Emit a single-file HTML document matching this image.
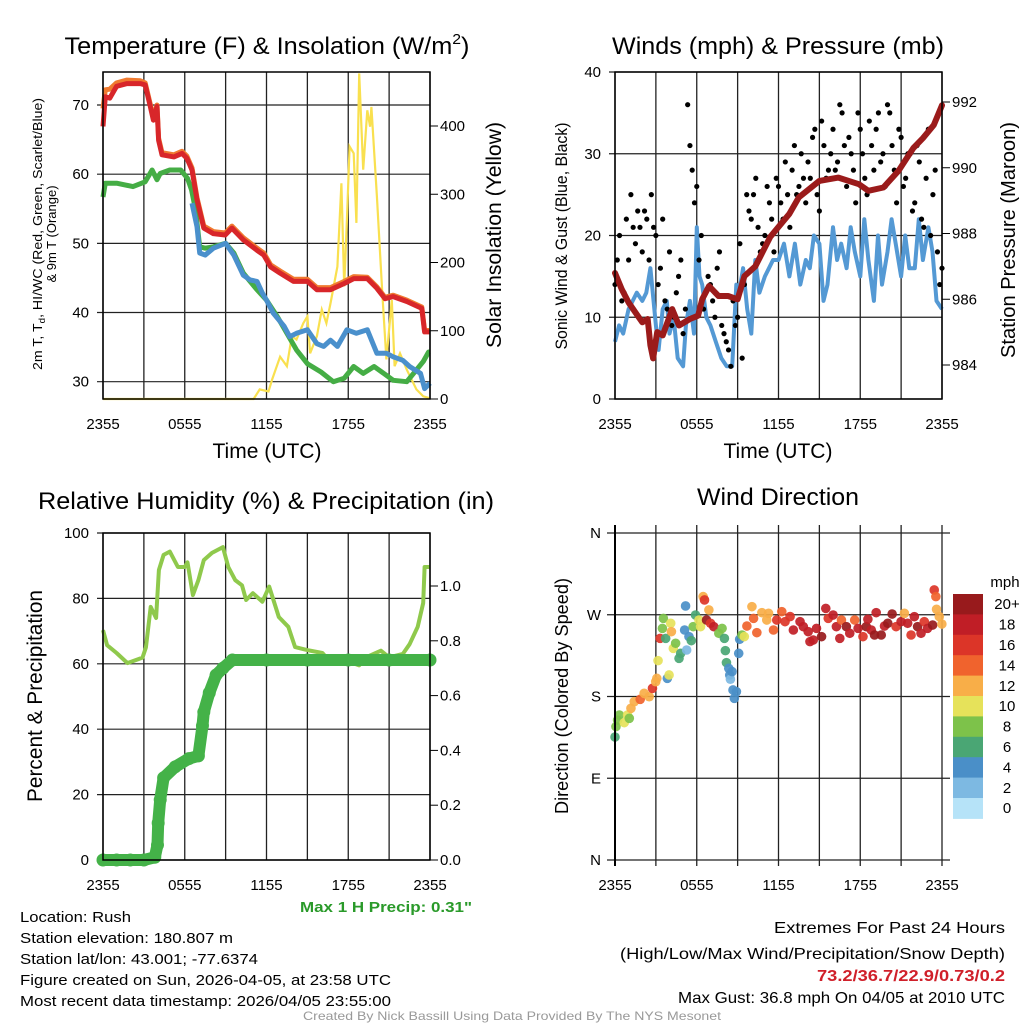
<!DOCTYPE html>
<html><head><meta charset="utf-8"><style>
body{margin:0;background:#fff}
svg{display:block;font-family:"Liberation Sans",sans-serif}
</style></head><body>
<svg id="chart" width="1024" height="1024" viewBox="0 0 1024 1024" xmlns="http://www.w3.org/2000/svg">
<rect width="1024" height="1024" fill="#fff"/>
<g id="grids"></g>
<g id="marks"></g>
<g id="frames"></g>
<g id="labels">
<text x="267" y="54" font-size="24" text-anchor="middle" textLength="405" lengthAdjust="spacingAndGlyphs">Temperature (F) &amp; Insolation (W/m<tspan font-size="15" dy="-10">2</tspan><tspan dy="10">)</tspan></text>
<text x="778" y="54" font-size="24" text-anchor="middle" textLength="332" lengthAdjust="spacingAndGlyphs">Winds (mph) &amp; Pressure (mb)</text>
<text x="266" y="509" font-size="24" text-anchor="middle" textLength="456" lengthAdjust="spacingAndGlyphs">Relative Humidity (%) &amp; Precipitation (in)</text>
<text x="778" y="505" font-size="24" text-anchor="middle" textLength="162" lengthAdjust="spacingAndGlyphs">Wind Direction</text>
<text x="267" y="458" font-size="21" text-anchor="middle" textLength="109" lengthAdjust="spacingAndGlyphs">Time (UTC)</text>
<text x="778" y="458" font-size="21" text-anchor="middle" textLength="109" lengthAdjust="spacingAndGlyphs">Time (UTC)</text>
<text transform="translate(42,234) rotate(-90)" font-size="13" text-anchor="middle" textLength="272" lengthAdjust="spacingAndGlyphs">2m T, T<tspan font-size="9" dy="3">d</tspan><tspan dy="-3">, HI/WC (Red, Green, Scarlet/Blue)</tspan></text>
<text transform="translate(56,234) rotate(-90)" font-size="13" text-anchor="middle">&amp; 9m T (Orange)</text>
<text transform="translate(501,235) rotate(-90)" font-size="21" text-anchor="middle" textLength="226" lengthAdjust="spacingAndGlyphs">Solar Insolation (Yellow)</text>
<text transform="translate(567,236) rotate(-90)" font-size="17" text-anchor="middle" textLength="227" lengthAdjust="spacingAndGlyphs">Sonic Wind &amp; Gust (Blue, Black)</text>
<text transform="translate(1015,240) rotate(-90)" font-size="20" text-anchor="middle" textLength="236" lengthAdjust="spacingAndGlyphs">Station Pressure (Maroon)</text>
<text transform="translate(42,696) rotate(-90)" font-size="21" text-anchor="middle" textLength="212" lengthAdjust="spacingAndGlyphs">Percent &amp; Precipitation</text>
<text transform="translate(568,696) rotate(-90)" font-size="18" text-anchor="middle" textLength="236" lengthAdjust="spacingAndGlyphs">Direction (Colored By Speed)</text>
<text x="472" y="912" font-size="15" font-weight="bold" fill="#2a9a2a" text-anchor="end" textLength="172" lengthAdjust="spacingAndGlyphs">Max 1 H Precip: 0.31"</text>
<text x="20" y="922" font-size="15" textLength="111" lengthAdjust="spacingAndGlyphs">Location: Rush</text>
<text x="20" y="943" font-size="15" textLength="213" lengthAdjust="spacingAndGlyphs">Station elevation: 180.807 m</text>
<text x="20" y="964" font-size="15" textLength="238" lengthAdjust="spacingAndGlyphs">Station lat/lon: 43.001; -77.6374</text>
<text x="20" y="985" font-size="15" textLength="371" lengthAdjust="spacingAndGlyphs">Figure created on Sun, 2026-04-05, at 23:58 UTC</text>
<text x="20" y="1006" font-size="15" textLength="371" lengthAdjust="spacingAndGlyphs">Most recent data timestamp: 2026/04/05 23:55:00</text>
<text x="1005" y="933" font-size="16" text-anchor="end" textLength="231" lengthAdjust="spacingAndGlyphs">Extremes For Past 24 Hours</text>
<text x="1005" y="959" font-size="16" text-anchor="end" textLength="385" lengthAdjust="spacingAndGlyphs">(High/Low/Max Wind/Precipitation/Snow Depth)</text>
<text x="1005" y="981" font-size="16" font-weight="bold" fill="#d0202a" text-anchor="end" textLength="188" lengthAdjust="spacingAndGlyphs">73.2/36.7/22.9/0.73/0.2</text>
<text x="1005" y="1003" font-size="16" text-anchor="end" textLength="327" lengthAdjust="spacingAndGlyphs">Max Gust: 36.8 mph On 04/05 at 2010 UTC</text>
<text x="512" y="1020" font-size="12" fill="#999" text-anchor="middle" textLength="418" lengthAdjust="spacingAndGlyphs">Created By Nick Bassill Using Data Provided By The NYS Mesonet</text>
</g>
</svg>
<script>
// ---- Temperature panel data ----
const tempHours=[0,0.17,0.5,1,1.76,2.74,3.1,3.47,3.7,3.96,4.08,4.33,5.2,5.8,6.16,6.53,6.9,7.4,8.1,8.97,9.46,10.3,11.3,11.8,12.3,13,13.98,15,15.7,16.7,17.7,18.4,19.4,20.1,20.7,21.3,22.3,23.4,23.6,24];
const tempValues=[66.9,71.2,71,72.7,73.1,73.1,72.9,69.8,67.8,69.8,64.9,62.8,62.5,63,62.3,60.6,56.3,52.2,51.4,51.2,52.2,50.5,49,48.3,46.6,45.7,44.5,44.5,43.3,43.3,44.2,44.9,44.9,43.5,42,42.3,41.6,40.6,37.2,37.2];
const temp9mValues=[69.5,72.2,72.3,73.2,73.6,73.5,73.2,70.1,68.1,70,65.2,63.1,62.8,63.3,62.6,60.9,56.6,52.5,51.7,51.5,52.5,50.8,49.3,48.6,46.9,46,44.8,44.8,43.6,43.6,44.5,45.2,45.1,43.7,42.2,42.5,41.8,40.8,37.4,37.4];
const dewHours=[0,0.17,1,2.2,3.1,3.6,3.96,4.2,4.9,5.7,6.2,6.5,6.8,7.1,7.5,8.1,9,9.6,10.3,11.3,12,12.8,13.5,14.2,15,16,16.9,17.7,18.4,19.1,19.9,20.6,21.3,22.3,23,23.5,23.9,24];
const dewValues=[56.7,58.7,58.7,58.2,58.9,60.6,59.2,60.1,60.6,60.6,59.4,57.7,54.8,49.5,49.3,49.5,50,48.6,45.7,43.3,41.8,39.4,37,34.6,32.6,31.4,30,30.5,32.2,31.2,32.2,31.2,30.2,30,31.7,32.9,34.3,34.3];
const hiHours=[6.53,6.9,7.1,7.5,8.1,9,9.6,10.3,10.8,11.3,11.7,12,12.5,13.3,13.7,14.2,15,15.7,16.2,16.7,17.2,17.9,18.6,19.4,20.1,20.8,21.3,22,22.5,23.3,23.6,24];
const hiValues=[55.8,52.4,48.6,48.3,49.3,50,48.3,45.4,44.7,44.5,42.8,41.8,39.9,38,36.5,37,37.5,35.5,35.1,36,35.1,37.5,37,37.5,34.1,34.1,33.6,33.1,32.2,31.2,29,29.8];
const solarHours=[0,11.05,11.5,12.15,12.4,13,13.5,13.86,14.2,14.7,15,15.2,15.7,16.06,16.4,16.7,17.2,17.5,17.7,17.9,18.1,18.4,18.6,18.8,19.1,19.4,19.6,19.7,20.1,20.5,20.8,21.2,21.4,21.8,22.3,23,23.5,24];
const solarValues=[0,0,14,11,28,62,48,92,87,111,121,67,92,131,111,140,194,316,165,262,370,360,258,477,336,423,399,428,297,155,58,145,48,67,43,14,4,1];
const tempTicks=[30,40,50,60,70];
const solarTicks=[0,100,200,300,400];
const timeTickHours=[0,6,12,18,24];
const timeTickLabels=["2355","0555","1155","1755","2355"];
// ---- Wind panel data ----
const windHours=[0,0.3,0.6,1,1.3,1.6,2,2.3,2.6,3,3.2,3.5,3.8,4,4.3,4.6,5,5.2,5.5,5.8,6,6.2,6.4,6.7,7,7.4,7.8,8.2,8.6,8.9,9.1,9.4,9.7,10,10.3,10.6,11,11.3,11.6,12,12.4,12.8,13.2,13.6,14,14.3,14.6,15,15.3,15.6,16,16.3,16.6,17,17.3,17.6,18,18.3,18.6,19,19.3,19.6,20,20.3,20.6,21,21.3,21.6,22,22.3,22.6,23,23.3,23.6,24];
const windValues=[7,9,8,11,12,13,12,13,16,9,6,11,12,8,10,5,4,9,12,8,21,15,14,10,9,7,5,4,4,14,13,16,11,8,17,13,15,16,17,17,19,15,19,14,17,16,20,19,12,14,21,17,19,16,21,18,15,22,17,12,20,14,18,22,19,15,20,16,16,22,17,21,18,12,11];
const gustValues=[14,20,13,17,21,23,18,22,25,20,16,12,18,10,15,8,36,28,26,20,13,14,10,18,8,6,12,10,5,25,22,27,18,20,24,18,26,22,25,28,25,30,24,27,33,23,31,28,33,29,35,26,30,24,33,27,34,28,35,30,36,31,24,32,27,30,24,29,21,33,25,18,16];
const gustValues2=[17,12,22,25,19,21,23,17,21,14,22,11,9,13,17,11,31,24,17,11,15,12,16,9,7,4,9,19,14,23,25,21,19,26,22,27,24,29,21,31,26,27,29,32,25,34,27,30,28,36,31,32,28,35,30,25,31,33,29,26,35,28,33,26,30,23,31,22,27,20,28,14];
const presHours=[0,0.5,1,1.5,2,2.4,2.6,2.8,3.1,3.5,4.2,4.7,5.5,6.1,6.4,6.9,7.6,8.3,9,9.5,10.3,11.4,12.8,13.5,15,16.4,17.9,18.6,19.7,20.8,21.9,22.6,23.4,24];
const presValues=[986.8,986.3,985.9,985.6,985.3,985.4,984.6,984.2,985,984.9,985.7,985.2,985.4,985.5,986,986.4,986.1,986.1,986,986.7,987,987.9,988.6,989.1,989.6,989.7,989.5,989.3,989.4,989.9,990.6,990.9,991.3,991.9];
const windTicks=[0,10,20,30,40];
const presTicks=[984,986,988,990,992];
// ---- Humidity panel data ----
const rhHours=[0,0.3,1,1.8,2.9,3.15,3.5,3.9,4.1,4.45,4.9,5.5,6,6.2,6.6,7,7.4,8,8.8,9.2,9.7,10.2,10.5,11,11.7,12.2,12.9,13.6,14.1,15.1,16.1,16.8,17.8,18.8,19.3,20.4,21,22,22.5,23.1,23.5,23.6,24];
const rhValues=[70.3,65.7,63.3,60.2,61.9,65,77.4,74,88.7,93.3,94.3,89.6,89.6,91,81,85.6,91.7,93.9,95.7,89.6,85.6,84,79.5,81.6,79,83.6,74.3,71.3,65.1,64.1,63.3,60,61,59.5,62,64,62,63,66,71.3,78.6,89.6,89.6];
const precipHours=[0,1,2,3,3.8,4.0,4.05,4.2,4.45,5.3,6.3,7,7.3,7.4,7.8,8.3,8.8,9.5,12,15,18,21,24];
const precipValues=[0,0,0,0,0.01,0.055,0.135,0.22,0.30,0.34,0.37,0.38,0.49,0.54,0.61,0.675,0.70,0.73,0.73,0.73,0.73,0.73,0.73];
const rhTicks=[0,20,40,60,80,100];
const precipTicks=[0,0.2,0.4,0.6,0.8,1.0];
// ---- Wind direction data ----
const dirHours=[0,0.07,0.19,0.32,0.68,0.92,1.05,1.17,1.41,1.85,2.14,2.51,2.75,2.99,3.07,3.16,3.31,3.48,3.55,3.72,3.84,3.97,4.09,4.14,4.28,4.45,4.7,4.82,5.18,5.26,5.11,5.43,5.6,5.74,5.91,6.16,6.28,6.47,6.57,6.72,6.89,7.01,7.25,7.62,7.86,8.03,8.1,8.18,8.35,8.42,8.47,8.59,8.66,8.76,8.91,9.08,9.15,9.32,9.49,9.68,10.05,10.17,10.41,10.78,11.14,11.27,11.63,11.87,12.24,12.48,12.85,13.09,13.58,13.82,14.18,14.31,14.55,14.79,15.16,15.47,15.65,16.01,16.25,16.5,16.62,16.98,17.23,17.59,17.84,18.2,18.44,18.56,18.81,19.05,19.17,19.54,19.78,20.02,20.34,20.63,21,21.24,21.48,21.73,21.97,22.21,22.46,22.7,22.94,23.31,23.43,23.55,23.6,23.8,23.99];
const dirValues=[135.4,146.8,154,159.6,151.2,159.6,156,167,174.3,176.9,183.5,179.8,189,196.3,200,219.5,244,255,266,244,200,203.7,260.6,251.4,233,238.6,222,227.5,279.7,231.2,253.2,245.9,241.5,256.9,269.7,264.2,256.9,290,286.3,264.2,275.3,260.6,256.9,249.6,255,244,230.5,217.3,211,203.7,199,207.4,187.2,178,185.3,227.5,243,247.7,245.9,257.6,278.9,266,250.3,272.3,264.2,271.6,253.2,264.2,273.4,262.4,268,253.2,262.4,256.9,251.4,240.4,242.2,255,245.9,277,266,269.7,256.9,244,264.2,256.9,249.6,264.2,255,245.9,256.9,265,253.2,247.7,272.3,247.7,257.6,260.6,270.8,256.9,262.4,271.6,260.6,247.7,267.9,256.9,249.6,262.4,255,258.7,297.3,290,276,268,259.8];
const dirSpeeds=[6,8,8,8,10,10,8,12,12,14,12,12,16,12,12,10,16,8,8,6,4,10,10,12,10,8,6,6,4,2,4,4,6,8,6,10,10,12,16,20,12,16,18,8,8,6,6,6,4,4,2,4,4,4,4,4,4,8,10,14,12,14,14,12,12,12,14,16,14,16,16,18,18,18,18,18,18,18,20,18,16,18,18,18,14,20,18,14,18,16,20,18,18,20,18,20,18,20,20,16,18,12,18,16,18,20,18,16,18,20,16,14,12,12,12];
const speedLevels=[0,2,4,6,8,10,12,14,16,18,20];
const speedLabels=["0","2","4","6","8","10","12","14","16","18","20+"];
const speedColors=["#b6e3f8","#7db9e2","#4a8fc8","#4aa674","#7dc24a","#e6e25a","#f8ae48","#f0632d","#dc3528","#c01e26","#981a1c"];
const dirTicks=[0,90,180,270,360];
const dirTickLabels=["N","E","S","W","N"];

const NS="http://www.w3.org/2000/svg";
const grids=document.getElementById('grids'),marks=document.getElementById('marks'),frames=document.getElementById('frames'),labels=document.getElementById('labels');
function lin(d0,d1,r0,r1){return v=>r0+(v-d0)*(r1-r0)/(d1-d0);}
function mk(tag,attrs,parent){const e=document.createElementNS(NS,tag);for(const k in attrs)e.setAttribute(k,attrs[k]);parent.appendChild(e);return e;}
function pts(hs,vs,xs,ys){return hs.map((h,i)=>xs(h).toFixed(1)+','+ys(vs[i]).toFixed(1)).join(' ');}

const panels={
 temp:{x0:103,x1:430,y0:72,y1:399},
 wind:{x0:615,x1:942,y0:72,y1:399},
 rh:{x0:103,x1:430,y0:533,y1:860},
 dir:{x0:615,x1:942,y0:533,y1:860}
};
function drawFrame(p,name,vGridStep,hVals,ys,leftTicks,leftLabels,rightTicks,rightLabels,ysR,frameRect){
 const xs=lin(0,24,p.x0,p.x1);
 for(let h=0;h<=24;h+=3){
  const l=mk('line',{x1:xs(h),x2:xs(h),y1:p.y0-(frameRect?0:8),y2:p.y1+(frameRect?0:6),stroke:'#222','stroke-width':1.3},grids);
  
  
 }
 hVals.forEach(v=>{
  const l=mk('line',{x1:p.x0-(frameRect?6:8),x2:p.x1+(frameRect?0:8),y1:ys(v),y2:ys(v),stroke:'#222','stroke-width':1.2},grids);
  
  
 });
 if(frameRect){
  const r=mk('rect',{x:p.x0,y:p.y0,width:p.x1-p.x0,height:p.y1-p.y0,fill:'none',stroke:'#000','stroke-width':1.5},frames);
  
  
 } else {
  mk('line',{x1:p.x0,x2:p.x0,y1:p.y0-8,y2:p.y1+6,stroke:'#000','stroke-width':2},frames);
 }
 leftTicks.forEach((v,i)=>{
  const t=mk('text',{x:p.x0-14,y:ys(v)+5,'font-size':15,'text-anchor':'end'},labels);
  t.textContent=leftLabels[i];
  
  
 });
 if(rightTicks){rightTicks.forEach((v,i)=>{
  mk('line',{x1:p.x1,x2:p.x1+8,y1:ysR(v),y2:ysR(v),stroke:'#000','stroke-width':1},frames);
  const t=mk('text',{x:p.x1+10,y:ysR(v)+5,'font-size':15},labels);
  t.textContent=rightLabels[i];
  
  
 });}
 timeTickHours.forEach((h,i)=>{
  const t=mk('text',{x:xs(h),y:p.y1+30,'font-size':15,'text-anchor':'middle'},labels);
  t.textContent=timeTickLabels[i];
  
  
 });
 return xs;
}
// Temperature panel
{const p=panels.temp;const ys=lin(30,70,381.7,105);const ysR=lin(0,400,399,126);
 const xs=drawFrame(p,'temp',3,tempTicks,ys,tempTicks,tempTicks.map(String),solarTicks,solarTicks.map(String),ysR,true);
 let e;
 e=mk('polyline',{points:pts(solarHours,solarValues,xs,ysR),fill:'none',stroke:'#f9e04f','stroke-width':2.2},marks);
 
 e=mk('polyline',{points:pts(dewHours,dewValues,xs,ys),fill:'none',stroke:'#45ad45','stroke-width':5,'stroke-linejoin':'round'},marks);
 
 e=mk('polyline',{points:pts(hiHours,hiValues,xs,ys),fill:'none',stroke:'#4a90cc','stroke-width':5,'stroke-linejoin':'round'},marks);
 
 e=mk('polyline',{points:pts(tempHours,temp9mValues,xs,ys),fill:'none',stroke:'#f07a30','stroke-width':5,'stroke-linejoin':'round'},marks);
 
 e=mk('polyline',{points:pts(tempHours,tempValues,xs,ys),fill:'none',stroke:'#d8262a','stroke-width':5,'stroke-linejoin':'round'},marks);
 
}
// Wind panel
{const p=panels.wind;const ys=lin(0,40,399,72);const ysR=lin(984,992,365,102);
 const xs=drawFrame(p,'wind',3,windTicks,ys,windTicks,windTicks.map(String),presTicks,presTicks.map(String),ysR,true);
 let e;
 e=mk('polyline',{points:pts(windHours,windValues,xs,ys),fill:'none',stroke:'#5499d4','stroke-width':4,'stroke-linejoin':'round'},marks);
 
 gustValues.forEach((v,i)=>{
  const c=mk('circle',{cx:xs(i*24/(gustValues.length-1)),cy:ys(v),r:2.6,fill:'#000'},marks);
  
  
 });
 gustValues2.forEach((v,i)=>{
  const c=mk('circle',{cx:xs((i+0.5)*24/gustValues2.length),cy:ys(v),r:2.6,fill:'#000'},marks);
  
  
 });
 e=mk('polyline',{points:pts(presHours,presValues,xs,ysR),fill:'none',stroke:'#9b1b1b','stroke-width':6,'stroke-linejoin':'round','stroke-linecap':'round'},marks);
 
}
// Humidity panel
{const p=panels.rh;const ys=lin(0,100,860,533);const ysR=lin(0,1,860,586);
 const xs=drawFrame(p,'rh',3,rhTicks,ys,rhTicks,rhTicks.map(String),precipTicks,precipTicks.map(v=>v.toFixed(1)),ysR,true);
 let e;
 e=mk('polyline',{points:pts(rhHours,rhValues,xs,ys),fill:'none',stroke:'#8fc94c','stroke-width':4,'stroke-linejoin':'round'},marks);
 
 e=mk('polyline',{points:pts(precipHours,precipValues,xs,ysR),fill:'none',stroke:'#44b248','stroke-width':12,'stroke-linejoin':'round','stroke-linecap':'round'},marks);
 
 precipHours.forEach((h,i)=>{
  const c=mk('circle',{cx:xs(h),cy:ysR(precipValues[i]),r:6.5,fill:'#44b248'},marks);
  
  
 });
}
// Wind direction panel
{const p=panels.dir;const ys=lin(0,360,860,533);
 const xs=drawFrame(p,'dir',3,dirTicks,ys,dirTicks,dirTickLabels,null,null,null,false);
 function colorFor(s){let idx=0;speedLevels.forEach((l,i)=>{if(s>=l-1)idx=i;});return speedColors[idx];}
 dirHours.forEach((h,i)=>{
  const c=mk('circle',{cx:xs(h),cy:ys(dirValues[i]),r:4.8,fill:colorFor(dirSpeeds[i]),'fill-opacity':0.92},marks);
  
  
 });
 const top=594,bh=20.4;
 const lt=mk('text',{x:1005,y:587,'font-size':15,'text-anchor':'middle'},labels);lt.textContent='mph';
 
 
 for(let k=0;k<speedColors.length;k++){
  const idx=speedColors.length-1-k;
  const r=mk('rect',{x:953,y:top+k*bh,width:30,height:bh+0.5,fill:speedColors[idx]},marks);
  
  
  const t=mk('text',{x:1007,y:top+k*bh+bh/2+5,'font-size':15,'text-anchor':'middle'},labels);
  t.textContent=speedLabels[idx];
  
  
 }
}
</script>
</body></html>
